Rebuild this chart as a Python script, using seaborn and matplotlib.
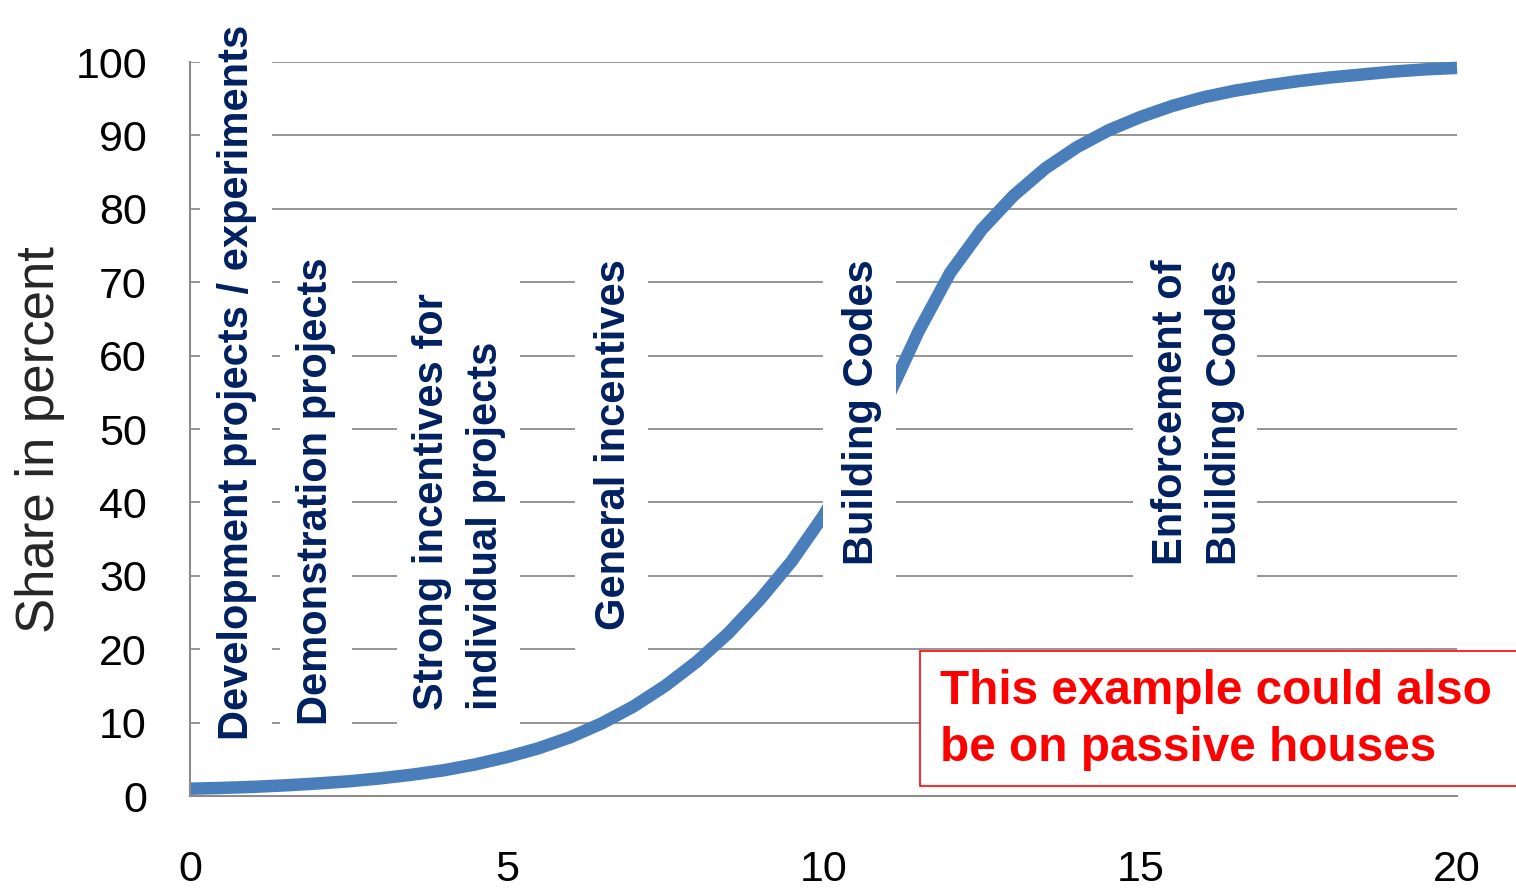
import matplotlib
matplotlib.use('Agg')
import matplotlib.pyplot as plt
import matplotlib.patches as mpatches
import seaborn as sns
import pandas as pd

# Values (years vs. share in percent)
years = [0, 0.5, 1, 1.5, 2, 2.5, 3, 3.5, 4, 4.5, 5, 5.5, 6, 6.5, 7, 7.5, 8, 8.5, 9, 9.5,
         10, 10.5, 11, 11.5, 12, 12.5, 13, 13.5, 14, 14.5, 15, 15.5, 16, 16.5, 17, 17.5,
         18, 18.5, 19, 19.5, 20]
share = [1.0, 1.1, 1.25, 1.45, 1.7, 2.0, 2.4, 2.9, 3.5, 4.3, 5.3, 6.5, 8.0, 9.9, 12.2, 15.0,
         18.3, 22.2, 26.8, 32.0, 38.2, 45.6, 54.0, 63.3, 71.3, 77.2, 81.8, 85.5, 88.4, 90.7,
         92.5, 94.0, 95.2, 96.1, 96.8, 97.4, 97.9, 98.3, 98.7, 99.0, 99.2]

x_ticks = [0, 5, 10, 15, 20]
y_ticks = [0, 10, 20, 30, 40, 50, 60, 70, 80, 90, 100]

phase_labels = ['Development projects / experiments',
                'Demonstration projects',
                'Strong incentives for\nindividual projects',
                'General incentives',
                'Building Codes',
                'Enforcement of\nBuilding Codes']
note_text = 'This example could also\nbe on passive houses'

df = pd.DataFrame({'year': years, 'share': share})

sns.set_style('white')
plt.rcParams['font.family'] = ['Liberation Sans', 'DejaVu Sans']

fig = plt.figure(figsize=(15.16, 8.91), dpi=100)
ax = fig.add_axes([0.1253, 0.1066, 0.8358, 0.8238])

grid_c = '#8c8c8c'
for v in y_ticks[1:]:
    ax.axhline(v, color=grid_c, lw=1.3, zorder=1)

sns.lineplot(data=df, x='year', y='share', color='#4a7ebb', lw=9, ax=ax, zorder=2,
             solid_capstyle='butt', solid_joinstyle='round')
ax.lines[-1].set_clip_on(False)

ax.set_xlim(0, 20)
ax.set_ylim(0, 100)
ax.set_xticks(x_ticks)
ax.set_yticks(y_ticks)
ax.tick_params(axis='both', labelsize=31, colors='black', length=11, width=1.3,
               direction='out')
ax.tick_params(axis='x', pad=28)
ax.tick_params(axis='y', pad=20)
for t in ax.get_xticklines() + ax.get_yticklines():
    t.set_color(grid_c)
for s in ['top', 'right']:
    ax.spines[s].set_visible(False)
for s in ['left', 'bottom']:
    ax.spines[s].set_color(grid_c)
    ax.spines[s].set_linewidth(1.5)
ax.set_xlabel('')
ax.set_ylabel('Share in percent', fontsize=38)
ax.yaxis.set_label_coords(-0.0985, 0.485)

# white panels behind the phase labels (x0, x1, y0, y1 in data units)
panels = [(0.158, 1.294, 6.0, 108.0),
          (1.421, 2.557, 8.0, 75.7),
          (3.268, 5.209, 9.3, 71.0),
          (6.077, 7.230, 18.5, 75.1),
          (10.00, 11.145, 28.7, 74.8),
          (14.885, 16.843, 28.7, 74.8)]
for x0, x1, y0, y1 in panels:
    ax.add_patch(mpatches.Rectangle((x0, y0), x1 - x0, y1 - y0, facecolor='white',
                                    edgecolor='none', zorder=3, clip_on=False))

navy = '#002060'
# label anchor: centre of text band, bottom of text
anchors = [(0.742, 7.6), (1.989, 9.7), (4.246, 11.7), (6.70, 22.6), (10.61, 31.5), (15.91, 31.5)]
for lab, (xa, ya) in zip(phase_labels, anchors):
    ax.text(xa, ya, lab, rotation=90, ha='center', va='bottom', color=navy,
            fontsize=30, fontweight='bold', linespacing=1.43, multialignment='left',
            zorder=4, clip_on=False)

# red note box, partly outside the plot
fig.add_artist(mpatches.Rectangle((0.6069, 0.1178), 0.45, 0.1515, transform=fig.transFigure,
                                  facecolor='white', edgecolor='#ff0000', lw=1.2, zorder=5))
fig.text(0.62, 0.1919, note_text, color='#ff0000', fontsize=34.4, fontweight='bold',
         ha='left', va='center', linespacing=1.33, zorder=6)

fig.savefig('out.png', dpi=100)
